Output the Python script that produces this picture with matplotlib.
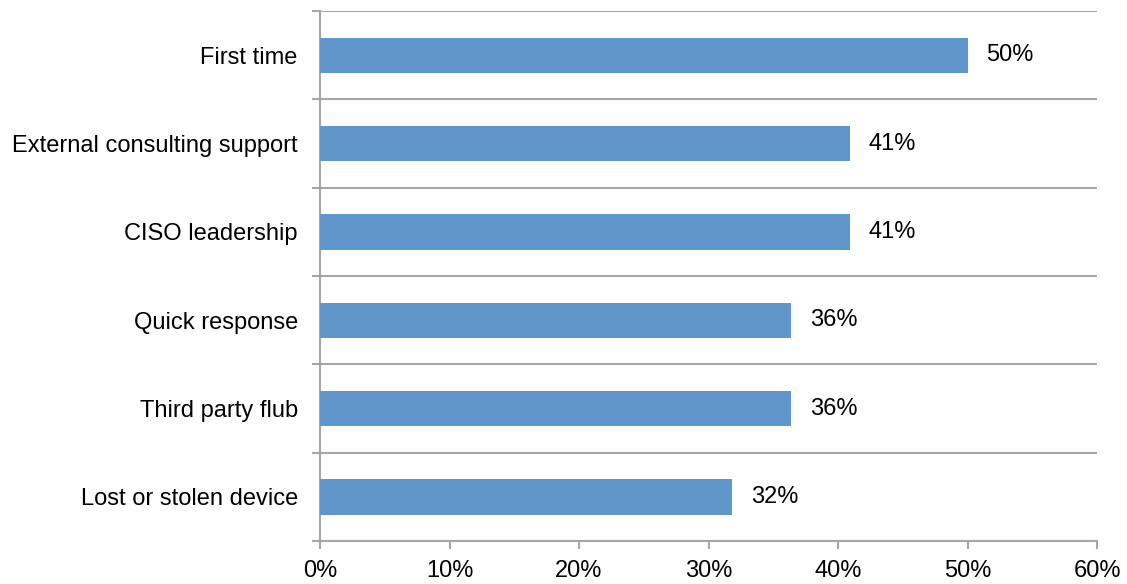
import matplotlib
matplotlib.use("Agg")
import matplotlib.pyplot as plt
import numpy as np

categories = ["First time", "External consulting support", "CISO leadership",
              "Quick response", "Third party flub", "Lost or stolen device"]
values = [50.0, 40.9, 40.9, 36.4, 36.4, 31.8]
value_labels = ["50%", "41%", "41%", "36%", "36%", "32%"]
x_ticks = [0, 10, 20, 30, 40, 50, 60]

plt.rcParams['font.family'] = ['Liberation Sans', 'DejaVu Sans']
fs = 17

fig = plt.figure(figsize=(11.27, 5.84), dpi=100)
ax = fig.add_axes([0.284, 0.0736, 0.6894, 0.9074])

pos = np.arange(len(categories))[::-1]
ax.barh(pos, values, height=0.4, color='#6096C9', zorder=3)
for p, v, lab in zip(pos, values, value_labels):
    ax.text(v + 1.45, p, lab, va='center', ha='left', fontsize=fs, color='black')

ax.set_xlim(0, 60)
ax.set_ylim(-0.5, len(categories) - 0.5)
ax.set_xticks(x_ticks)
ax.set_xticklabels([f"{t}%" for t in x_ticks], fontsize=fs)
ax.set_yticks(pos)
ax.set_yticklabels(categories, fontsize=fs)
ax.set_yticks(np.arange(-0.5, len(categories), 1.0), minor=True)

ax.tick_params(axis='y', which='major', length=0, pad=16)
ax.tick_params(axis='y', which='minor', length=6, color='#A6A6A6', width=1.5)
ax.tick_params(axis='x', length=6, color='#A6A6A6', width=1.5, pad=8)
ax.grid(axis='y', which='minor', color='#A6A6A6', linewidth=1.5, zorder=0)

for s in ['top', 'right']:
    ax.spines[s].set_visible(False)
for s in ['left', 'bottom']:
    ax.spines[s].set_color('#A6A6A6')
    ax.spines[s].set_linewidth(1.5)

fig.savefig("out.png", dpi=100)
